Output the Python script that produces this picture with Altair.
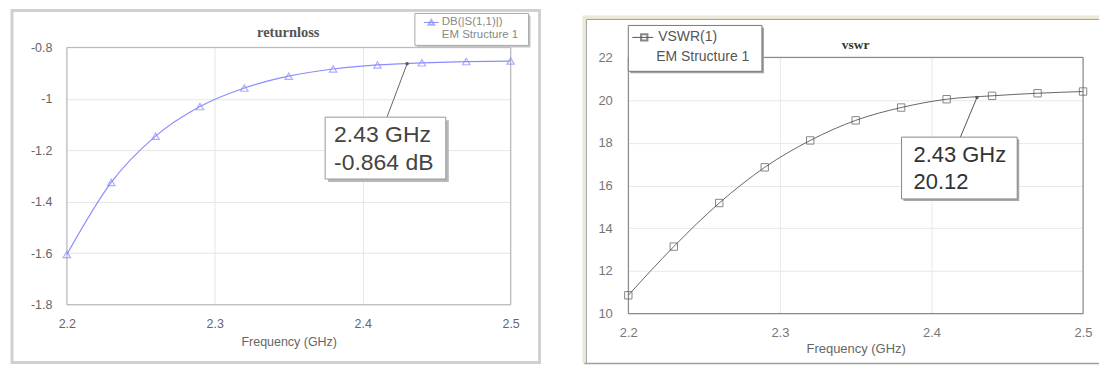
import altair as alt
import pandas as pd

# ---------------- data ----------------
freq = [2.2, 2.23, 2.26, 2.29, 2.32, 2.35, 2.38, 2.41, 2.44, 2.47, 2.5]
s11_db = [-1.605, -1.325, -1.145, -1.03, -0.958, -0.912, -0.884, -0.868, -0.860, -0.855, -0.853]
vswr = [10.86, 13.14, 15.18, 16.85, 18.11, 19.05, 19.65, 20.04, 20.20, 20.32, 20.40]

marker_freq = [2.43]
marker_db = [-0.864]
marker_vswr = [20.12]

x_ticks = [2.2, 2.3, 2.4, 2.5]
db_ticks = [-1.8, -1.6, -1.4, -1.2, -1.0, -0.8]
vswr_ticks = [10, 12, 14, 16, 18, 20, 22]

left_title = "returnloss"
right_title = "vswr"
x_title = "Frequency (GHz)"
left_legend = ["DB(|S(1,1)|)", "EM Structure 1"]
right_legend = ["VSWR(1)", "EM Structure 1"]

df_left = pd.DataFrame({"freq": freq, "db": s11_db})
df_right = pd.DataFrame({"freq": freq, "vswr": vswr})
df_mk_left = pd.DataFrame({"freq": marker_freq, "db": marker_db})
df_mk_right = pd.DataFrame({"freq": marker_freq, "vswr": marker_vswr})
one = pd.DataFrame({"a": [0]})

SANS = "Liberation Sans"
SERIF = "Liberation Serif"

# ---------------- helpers ----------------
def box(x1, x2, y1, y2, stroke, sw=1, fill=None):
    kw = dict(stroke=stroke, strokeWidth=sw)
    if fill is None:
        kw["fillOpacity"] = 0
    else:
        kw["fill"] = fill
    return alt.Chart(one).mark_rect(**kw).encode(
        x=alt.value(x1), x2=alt.value(x2), y=alt.value(y1), y2=alt.value(y2))


def hrule(x1, x2, y, color, sw=1):
    return alt.Chart(one).mark_rule(color=color, strokeWidth=sw).encode(
        x=alt.value(x1), x2=alt.value(x2), y=alt.value(y))


def vrule(x, y1, y2, color, sw=1):
    return alt.Chart(one).mark_rule(color=color, strokeWidth=sw).encode(
        x=alt.value(x), y=alt.value(y1), y2=alt.value(y2))


def label(txt, x, y, size, color, font=SANS, weight="normal", align="left"):
    return alt.Chart(one).mark_text(
        text=txt, fontSize=size, color=color, font=font, fontWeight=weight,
        align=align, baseline="middle").encode(x=alt.value(x), y=alt.value(y))


# ---------------- left panel: return loss ----------------
LW, LH = 445, 258
LC = "#8c8cff"

lx = alt.X("freq:Q", scale=alt.Scale(domain=[2.2, 2.5], nice=False, zero=False),
           axis=alt.Axis(values=x_ticks, labelExpr="'' + datum.value", title=x_title,
                         domain=False, ticks=False, labelPadding=13, labelFontSize=12.5,
                         labelColor="#666", labelFont=SANS, titleFont=SANS,
                         titleFontSize=12.5, titleFontWeight="normal", titleColor="#666",
                         titlePadding=5, gridColor="#e6e6e6", labelFlush=False))
ly = alt.Y("db:Q", scale=alt.Scale(domain=[-1.8, -0.8], nice=False, zero=False),
           axis=alt.Axis(values=db_ticks, labelExpr="'' + datum.value", title=None,
                         domain=False, ticks=False, labelPadding=15, labelFontSize=12.5,
                         labelColor="#666", labelFont=SANS, gridColor="#e6e6e6"))

l_line = alt.Chart(df_left).mark_line(color=LC, strokeWidth=1.2, interpolate="monotone").encode(x=lx, y=ly)
l_pts = alt.Chart(df_left).mark_point(shape="triangle-up", size=55, color=LC, filled=False,
                                      strokeWidth=1.2).encode(x=lx, y=ly)
l_mk = alt.Chart(df_mk_left).mark_point(size=12, color="#555", filled=True, opacity=1).encode(x=lx, y=ly)
l_lead = alt.Chart(df_mk_left).mark_rule(color="#666", strokeWidth=1).encode(
    x=lx, y=ly, x2=alt.value(321), y2=alt.value(70))
l_ann_txt1 = alt.Chart(df_mk_left).transform_calculate(t="datum.freq + ' GHz'").mark_text(
    fontSize=23, color="#444", font=SANS, align="left", baseline="middle").encode(
    x=alt.value(268), y=alt.value(88), text="t:N")
l_ann_txt2 = alt.Chart(df_mk_left).transform_calculate(t="datum.db + ' dB'").mark_text(
    fontSize=23, color="#444", font=SANS, align="left", baseline="middle").encode(
    x=alt.value(268), y=alt.value(116), text="t:N")

left = alt.layer(
    box(-55, 474, -37, 316, "#d0d0d0", 3),
    box(0, LW, 0, LH, "#b4b4b4", 1),
    l_line, l_pts, l_mk,
    l_lead,
    box(262, 383, 73, 135, "#b0b0b0", 0, "#b8b8b8"),
    box(259, 380, 70, 132, "#999", 1, "white"),
    l_ann_txt1, l_ann_txt2,
    box(351, 465, -32, 0, "#c0c0c0", 0, "#c4c4c4"),
    box(349, 463, -34, -2, "#a8a8a8", 1, "white"),
    hrule(358, 373, -25, LC, 1),
    alt.Chart(one).mark_point(shape="triangle-up", size=30, color=LC, filled=False).encode(
        x=alt.value(365.5), y=alt.value(-25)),
    label(left_legend[0], 376, -25, 11.5, "#888"),
    label(left_legend[1], 376, -12, 11.5, "#888"),
    label(left_title, 222, -14, 14.5, "#555", font=SERIF, weight="bold", align="center"),
).properties(width=LW, height=LH)

# ---------------- right panel: VSWR ----------------
RW, RH = 456, 257
RC = "#666"

rx = alt.X("freq:Q", scale=alt.Scale(domain=[2.2, 2.5], nice=False, zero=False),
           axis=alt.Axis(values=x_ticks, labelExpr="'' + datum.value", title=x_title,
                         domain=False, ticks=False, labelPadding=13, labelFontSize=13,
                         labelColor="#777", labelFont=SANS, titleFont=SANS,
                         titleFontSize=13, titleFontWeight="normal", titleColor="#666",
                         titlePadding=3, gridColor="#e8e8e8", labelFlush=False))
ry = alt.Y("vswr:Q", scale=alt.Scale(domain=[10, 22], nice=False, zero=False),
           axis=alt.Axis(values=vswr_ticks, labelExpr="'' + datum.value", title=None,
                         domain=False, ticks=False, labelPadding=16, labelFontSize=13,
                         labelColor="#777", labelFont=SANS, gridColor="#e8e8e8"))

r_line = alt.Chart(df_right).mark_line(color=RC, strokeWidth=1, interpolate="monotone").encode(x=rx, y=ry)
r_pts = alt.Chart(df_right).mark_point(shape="square", size=55, color="#555", filled=False,
                                       strokeWidth=1).encode(x=rx, y=ry)
r_mk = alt.Chart(df_mk_right).mark_point(size=12, color="#555", filled=True, opacity=1).encode(x=rx, y=ry)
r_lead = alt.Chart(df_mk_right).mark_rule(color="#555", strokeWidth=1).encode(
    x=rx, y=ry, x2=alt.value(333), y2=alt.value(80))
r_ann_txt1 = alt.Chart(df_mk_right).transform_calculate(t="datum.freq + ' GHz'").mark_text(
    fontSize=22, color="#333", font=SANS, align="left", baseline="middle").encode(
    x=alt.value(286), y=alt.value(98), text="t:N")
r_ann_txt2 = alt.Chart(df_mk_right).transform_calculate(t="'' + datum.vswr").mark_text(
    fontSize=22, color="#333", font=SANS, align="left", baseline="middle").encode(
    x=alt.value(286), y=alt.value(125), text="t:N")

right = alt.layer(
    hrule(-44, 472, -40, "#ece9d8", 4),
    vrule(-44, -42, 307, "#ece9d8", 4),
    hrule(-42, 472, -38, "#a0a0a0", 1),
    vrule(-42, -38, 307, "#a0a0a0", 1),
    hrule(-44, 472, 307, "#a0a0a0", 1.5),
    box(0, RW, 0, RH, "#777", 1),
    r_line, r_pts, r_mk,
    r_lead,
    box(276, 392, 82, 144, "#999", 0, "#a8a8a8"),
    box(274, 390, 80, 142, "#888", 1, "white"),
    r_ann_txt1, r_ann_txt2,
    box(2, 136, -30, 16, "#999", 0, "#a0a0a0"),
    box(0, 134, -32, 14, "#777", 1, "white"),
    hrule(4, 25, -20, "#555", 1),
    alt.Chart(one).mark_point(shape="square", size=40, color="#555", filled=False).encode(
        x=alt.value(16), y=alt.value(-20)),
    label(right_legend[0], 30, -20, 14, "#555"),
    label(right_legend[1], 28, 0, 14, "#555"),
    label(right_title, 228, -12, 13.5, "#333", font=SERIF, weight="bold", align="center"),
).properties(width=RW, height=RH)

spacer = alt.Chart(one).mark_point(opacity=0).encode(
    x=alt.value(0), y=alt.value(0)).properties(width=RW, height=10)

right_col = alt.vconcat(spacer, right, spacing=0, bounds="flush")

chart = alt.hconcat(left, right_col, spacing=118, bounds="flush").properties(
    padding={"left": 2, "top": 0, "right": 0, "bottom": 0},
    background="white",
).configure_view(strokeWidth=0)

chart.save("out.html", embed_options={"renderer": "svg", "actions": False})
